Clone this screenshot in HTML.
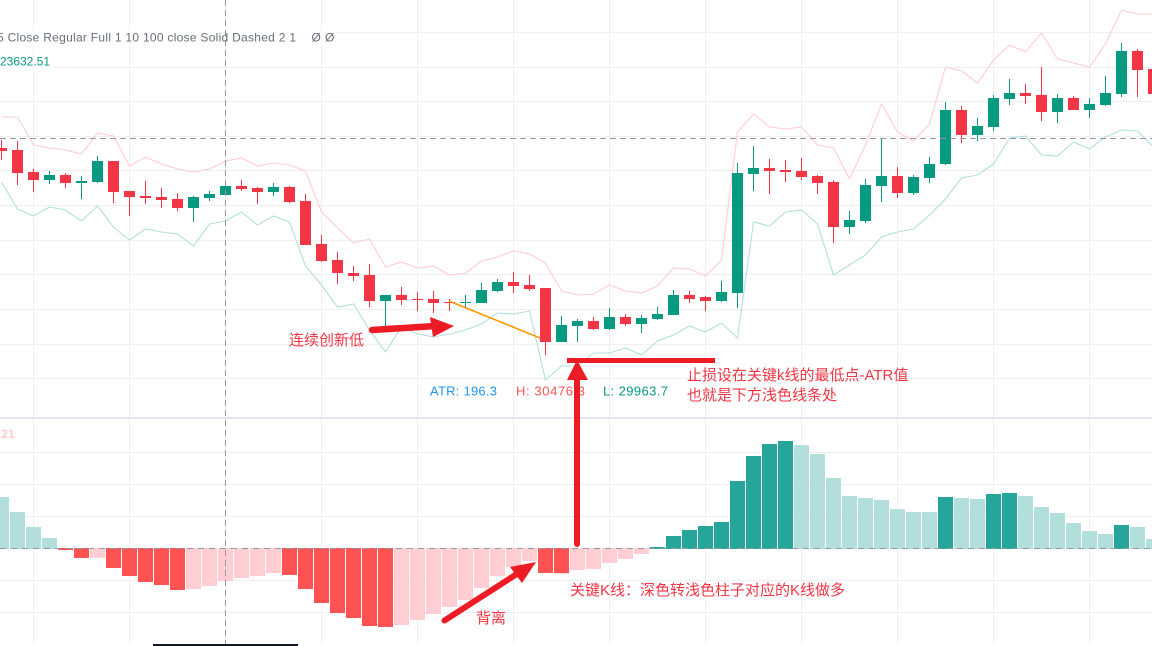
<!DOCTYPE html>
<html lang="zh">
<head>
<meta charset="utf-8">
<title>Candlestick chart with MACD histogram</title>
<style>
html,body{margin:0;padding:0;background:#fff;width:1152px;height:646px;overflow:hidden}
svg{display:block}
text{font-family:"Liberation Sans","Noto Sans CJK SC",sans-serif}
.note{font-family:"Liberation Sans","Noto Sans CJK SC",sans-serif;font-size:15px;fill:#f23645}
</style>
</head>
<body>
<svg id="chart" xmlns="http://www.w3.org/2000/svg" width="1152" height="646" viewBox="0 0 1152 646">
  <defs>
    <clipPath id="price-clip"><rect x="0" y="0" width="1152" height="416"/></clipPath>
  </defs>
  <g id="grid"></g>
  <rect x="0" y="29" width="336" height="17" fill="#fff" fill-opacity="0.8"/>
  <rect x="0" y="53" width="53" height="16" fill="#fff" fill-opacity="0.8"/>
  <rect x="0" y="417" width="1152" height="2" fill="#e4e3ef"/>
  <g id="bands" clip-path="url(#price-clip)"></g>
  <g id="candles"></g>
  <g id="histogram"></g>
  <line x1="0" y1="548.5" x2="1152" y2="548.5" stroke="#9598a1" stroke-width="1" stroke-dasharray="6 5"/>
  <line x1="0" y1="138.5" x2="1152" y2="138.5" stroke="#9598a1" stroke-width="1" stroke-dasharray="6 4"/>
  <line x1="225.5" y1="0" x2="225.5" y2="644" stroke="#9598a1" stroke-width="1" stroke-dasharray="6 4"/>
  <rect x="153" y="644" width="145" height="2" fill="#131722"/>

  <text x="-3" y="41.5" font-size="12" fill="#6a6d78" textLength="299" lengthAdjust="spacing">5 Close Regular Full 1 10 100 close Solid Dashed 2 1</text>
  <text x="311.5" y="41.5" font-size="12" fill="#6a6d78">Ø</text>
  <text x="325" y="41.5" font-size="12" fill="#6a6d78">Ø</text>
  <text x="0" y="65.5" font-size="12" fill="#089981" textLength="50">23632.51</text>
  <text x="-2" y="438" font-size="12" font-weight="bold" fill="#ffcdd2">.21</text>

  <text x="430" y="395.5" font-size="13" fill="#2196f3" textLength="67">ATR: 196.3</text>
  <text x="516" y="395.5" font-size="13" fill="#ff5252" textLength="69">H: 30476.3</text>
  <text x="603" y="395.5" font-size="13" fill="#089981" textLength="65">L: 29963.7</text>

  <line x1="449" y1="301" x2="540" y2="338" stroke="#ff9800" stroke-width="1.6"/>

  <g>
    <line x1="372" y1="330" x2="436" y2="326" stroke="#ed1c24" stroke-width="6.5" stroke-linecap="round"/>
    <polygon points="430,317 454,326 433,337" fill="#ed1c24"/>
  </g>
  <g>
    <line x1="577" y1="544" x2="577" y2="378" stroke="#ed1c24" stroke-width="6" stroke-linecap="round"/>
    <polygon points="577,360 588,380 567,380" fill="#ed1c24"/>
  </g>
  <g>
    <line x1="444.5" y1="620.5" x2="520" y2="572" stroke="#ed1c24" stroke-width="6" stroke-linecap="round"/>
    <polygon points="536,562 510,567 522,583" fill="#ed1c24"/>
  </g>
  <rect x="567" y="358" width="148" height="5" fill="#ed1c24"/>

  <text class="note" x="289" y="345">连续创新低</text>
  <text class="note" x="687" y="380">止损设在关键k线的最低点-ATR值</text>
  <text class="note" x="687" y="400">也就是下方浅色线条处</text>
  <text class="note" x="570" y="595">关键K线：深色转浅色柱子对应的K线做多</text>
  <text class="note" x="476" y="623">背离</text>
</svg>
<script>
// Price pane values (one entry per candle, left to right)
var opens = [30520,30500,30280,30200,30250,30170,30180,30390,30090,30040,30030,30010,29920,30020,30050,30140,30120,30080,30130,29990,29560,29400,29270,29250,28990,29050,29010,29010,28980,28970,28970,29090,29180,29150,29120,28580,28740,28790,28710,28830,28760,28810,28850,29050,29030,28990,29070,30260,30320,30300,30290,30240,30180,29730,29790,30140,30240,30070,30220,30360,30900,30650,30730,31010,31070,31050,30880,31020,30900,30950,31060,31490,31310];
var highs = [30600,30590,30310,30290,30270,30240,30440,30390,30090,30190,30120,30070,30040,30090,30160,30200,30130,30170,30140,30060,29650,29480,29340,29360,29050,29130,29080,29090,29010,29050,29170,29210,29280,29250,29120,28840,28810,28830,28920,28860,28850,28930,29100,29090,29040,29190,30370,30540,30410,30400,30420,30250,30200,29890,30210,30610,30330,30250,30430,30980,30940,30820,31050,31210,31160,31330,31060,31040,31020,31240,31570,31510,31400];
var lows = [30400,30150,30080,30160,30120,30010,30170,29970,29840,29960,29920,29890,29780,29990,30050,30090,29960,30040,29970,29550,29380,29160,29190,28930,28730,28950,28890,28870,28890,28920,28970,29080,29070,29090,28450,28580,28580,28700,28700,28740,28670,28800,28850,28970,28890,28980,28920,30090,30060,30180,30200,30060,29570,29660,29770,29980,30020,30050,30170,30350,30570,30590,30690,30950,30960,30790,30770,30900,30820,30940,31030,31030,30990];
var closes = [30490,30270,30200,30250,30170,30190,30390,30080,30030,30020,30000,29920,30030,30060,30140,30110,30080,30130,29980,29550,29390,29270,29240,28990,29050,29000,29000,28970,28970,28980,29100,29180,29140,29110,28580,28750,28790,28710,28830,28760,28820,28860,29050,29010,28990,29080,30270,30320,30290,30280,30230,30170,29730,29800,30150,30240,30070,30230,30360,30900,30650,30740,31020,31070,31040,30880,31020,30900,30960,31070,31490,31300,31060];
var upperBand = [30830,30830,30550,30520,30500,30460,30670,30640,30340,30430,30360,30310,30280,30310,30390,30420,30340,30370,30350,30290,29880,29720,29570,29610,29330,29380,29320,29340,29250,29270,29390,29430,29490,29460,29370,29090,29050,29060,29150,29090,29070,29140,29320,29310,29240,29400,30680,30860,30730,30710,30730,30550,30520,30210,30550,30960,30680,30590,30760,31330,31290,31170,31400,31550,31480,31670,31410,31370,31330,31560,31900,31860,31860];
var lowerBand = [30180,29910,29840,29930,29900,29790,29940,29730,29600,29710,29680,29660,29540,29760,29790,29880,29750,29840,29780,29340,29150,28930,28960,28700,28480,28730,28660,28630,28660,28700,28760,28870,28860,28890,28200,28340,28340,28470,28470,28520,28450,28590,28650,28740,28680,28770,28620,29780,29740,29880,29900,29760,29250,29350,29450,29630,29680,29710,29850,30010,30220,30250,30360,30620,30640,30450,30440,30580,30510,30630,30700,30690,30530];
// MACD pane histogram values
var histogramValues = [51,36,21,10,-1,-9,-8.8,-19,-27,-33,-36,-41,-40,-37,-32,-29,-27,-24,-26,-40,-54,-64,-69,-77,-78,-76,-71,-65,-58,-51,-39,-27,-18,-12,-24,-24.2,-21,-20,-14,-10,-5,1,12,18,22,26,67,92,104,107,103,94,70,52,50,48,39,36,35.9,51,50,49,54,55,52,41,35,25,17,14,23,21,9];

var NS = 'http://www.w3.org/2000/svg';
function xOf(i){ return 1.5 + 16 * i; }
function yPrice(p){ return (32000 - p) / 10; }
function yHist(v){ return 548 - v; }

function make(tag, attrs, parent){
  var el = document.createElementNS(NS, tag);
  for (var k in attrs) el.setAttribute(k, attrs[k]);
  parent.appendChild(el);
  return el;
}

// Grid
var gridG = document.getElementById('grid');
for (var vx = 33.5; vx < 1152; vx += 96) {
  var vLine = make('line', {x1:vx, y1:0, x2:vx, y2:644, stroke:'#efeff1', 'stroke-width':1}, gridG);
  
  
}
[-2.5,32.5,67.5,101.5,136.5,170.5,205.5,240.5,274.5,309.5,344.5,378.5,452.5,484.5,516.5,580.5,612.5].forEach(function(gy){
  var hLine = make('line', {x1:0, y1:gy, x2:1152, y2:gy, stroke:'#f0f0f2', 'stroke-width':1}, gridG);
  
  
});

// ATR bands
function bandPath(values){
  return values.map(function(v, i){ return (i ? 'L' : 'M') + xOf(i) + ' ' + yPrice(v); }).join(' ');
}
var bandsG = document.getElementById('bands');
var upperLine = make('path', {d:bandPath(upperBand), fill:'none', stroke:'#ffcdd2', 'stroke-width':1.1}, bandsG);


var lowerLine = make('path', {d:bandPath(lowerBand), fill:'none', stroke:'#b2dfdb', 'stroke-width':1.1}, bandsG);



// Candles
var candlesG = document.getElementById('candles');
opens.forEach(function(o, i){
  var c = closes[i];
  var color = c >= o ? '#089981' : '#f23645';
  var x = xOf(i);
  var g = make('g', {}, candlesG);
  
  
  make('rect', {x:x - 0.5, y:yPrice(highs[i]), width:1, height:yPrice(lows[i]) - yPrice(highs[i]), fill:color}, g);
  var top = yPrice(Math.max(o, c));
  var bottom = yPrice(Math.min(o, c));
  make('rect', {x:x - 5.5, y:top, width:11, height:Math.max(1, bottom - top), fill:color}, g);
});

// Histogram: colour follows direction relative to the previous bar
var histG = document.getElementById('histogram');
histogramValues.forEach(function(v, i){
  var prev = i ? histogramValues[i - 1] : v + 1;
  var rising = v >= prev;
  var color = v >= 0 ? (rising ? '#26a69a' : '#b2dfdb') : (rising ? '#ffcdd2' : '#ff5252');
  var y0 = yHist(0);
  var y1 = yHist(v);
  var bar = make('rect', {x:xOf(i) - 7.5, y:Math.min(y0, y1), width:15, height:Math.abs(y1 - y0) + 1, fill:color}, histG);
  
  
});
</script>
</body>
</html>
